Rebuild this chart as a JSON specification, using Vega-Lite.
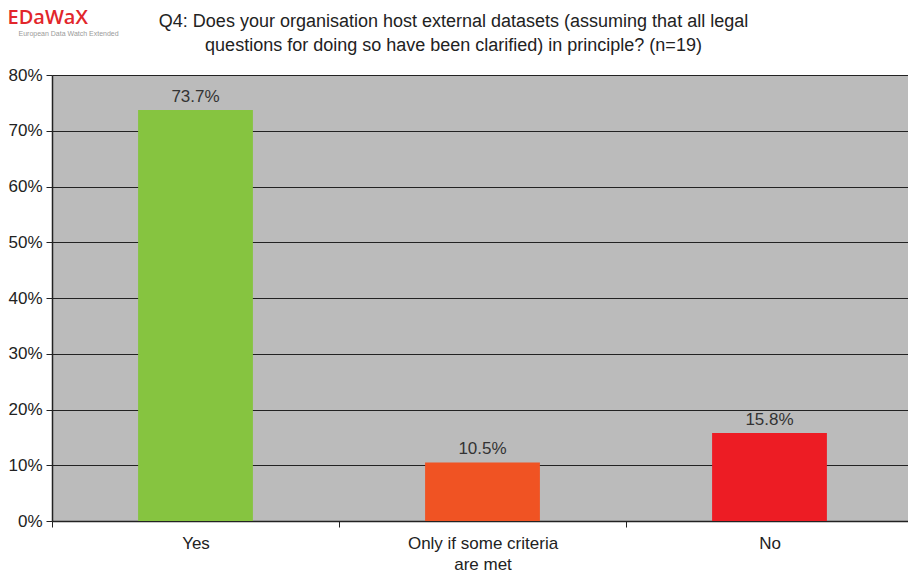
{
  "$schema": "https://vega.github.io/schema/vega-lite/v6.json",
  "autosize": {"type": "none"},
  "padding": {"left": 52, "top": 75, "right": 0, "bottom": 51},
  "width": 861,
  "height": 446,
  "background": "white",
  "config": {
    "font": "Liberation Sans",
    "view": {"fill": "#bbbbbb", "stroke": null}
  },
  "title": {
    "text": ["Q4: Does your organisation host external datasets (assuming that all legal", "questions for doing so have been clarified) in principle? (n=19)"],
    "fontSize": 18,
    "fontWeight": "normal",
    "color": "#222222",
    "lineHeight": 24,
    "anchor": "middle",
    "dx": -29,
    "offset": -48
  },
  "data": {
    "values": [
      {"answer": "Yes", "share": 0.737},
      {"answer": "Only if some criteria are met", "share": 0.105},
      {"answer": "No", "share": 0.158}
    ]
  },
  "encoding": {
    "x": {
      "field": "answer",
      "type": "nominal",
      "sort": null,
      "scale": {"paddingInner": 0, "paddingOuter": 0},
      "axis": {
        "title": "European Data Watch Extended",
        "titleX": -34,
        "titleY": -486,
        "titleAlign": "left",
        "titleAnchor": null,
        "titleBaseline": "alphabetic",
        "titleFontSize": 7,
        "titleFontWeight": "normal",
        "titleColor": "#9a9a9a",
        "labelAngle": 0,
        "labelFontSize": 17,
        "labelColor": "#222222",
        "labelPadding": 8,
        "labelLineHeight": 21,
        "labelExpr": "datum.label == 'Only if some criteria are met' ? ['Only if some criteria', 'are met'] : datum.label",
        "tickBand": "extent",
        "tickColor": "#222222",
        "tickSize": 6,
        "domainColor": "#222222",
        "domainWidth": 1.5
      }
    },
    "y": {
      "field": "share",
      "type": "quantitative",
      "scale": {"domain": [0, 0.8], "nice": false},
      "axis": {
        "title": "EDaWaX",
        "titleAngle": 0,
        "titleX": -45,
        "titleY": -52,
        "titleAlign": "left",
        "titleAnchor": null,
        "titleBaseline": "alphabetic",
        "titleFont": "Open Sans",
        "titleFontSize": 20,
        "titleFontWeight": 600,
        "titleColor": "#e2262b",
        "values": [0, 0.1, 0.2, 0.3, 0.4, 0.5, 0.6, 0.7, 0.8],
        "format": ".0%",
        "labelFontSize": 17,
        "labelColor": "#222222",
        "labelPadding": 4,
        "tickSize": 6,
        "tickColor": "#222222",
        "domainColor": "#222222",
        "domainWidth": 1.5,
        "grid": true,
        "gridColor": "#222222",
        "gridWidth": 1.2
      }
    }
  },
  "layer": [
    {
      "mark": {"type": "bar", "width": {"band": 0.4}},
      "encoding": {
        "color": {
          "field": "answer",
          "type": "nominal",
          "scale": {"domain": ["Yes", "Only if some criteria are met", "No"], "range": ["#86c440", "#f05323", "#ed1c24"]},
          "legend": null
        }
      }
    },
    {
      "mark": {"type": "text", "fontSize": 17, "color": "#333333", "baseline": "alphabetic", "dy": -8},
      "encoding": {
        "text": {"field": "share", "type": "quantitative", "format": ".1%"}
      }
    }
  ]
}
